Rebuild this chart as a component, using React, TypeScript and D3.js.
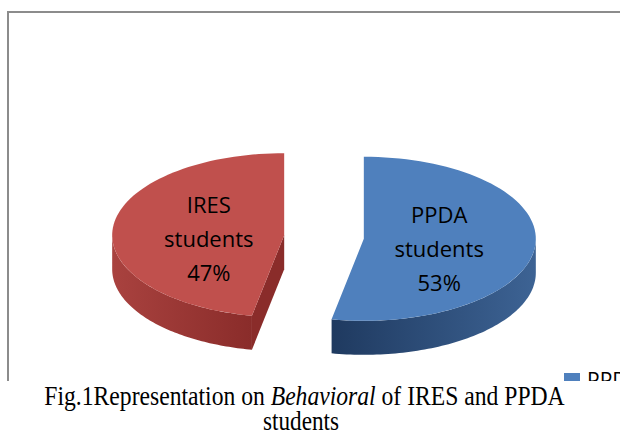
import React, {useLayoutEffect, useRef, useState} from 'react'
import * as d3 from 'd3'

// slices, clockwise from 12 o'clock
const names = ['PPDA', 'IRES']
const subNames = ['students', 'students']
const values = [53, 47]
const topColors = ['#4f80bd', '#c0504d']
const sideColors = [
  ['#1f3a60', '#3d6394'],
  ['#a9423f', '#8a2c2a']
]
const legendItems = ['PPDA students', 'IRES students']

const W = 620
const H = 436
const cx = 324
const cy = 237
const rx = 172
const ry = 82
const depth = 34
const explode = 40

function Caption() {
  const line1 = useRef<SVGTextElement>(null)
  const line2 = useRef<SVGTextElement>(null)
  const [sx, setSx] = useState([1, 1])

  useLayoutEffect(() => {
    const w1 = line1.current ? line1.current.getBBox().width : 521
    const w2 = line2.current ? line2.current.getBBox().width : 76
    setSx([521 / w1, 76 / w2])
  }, [])

  const font = "'Liberation Serif', 'Times New Roman', serif"
  return (
    <g>
      <g transform={`translate(304.5,405) scale(${sx[0]},1)`}>
        <text ref={line1} textAnchor="middle" fontFamily={font} fontSize={27} fill="#000">
          Fig.1Representation on <tspan fontStyle="italic">Behavioral</tspan> of IRES and PPDA
        </text>
      </g>
      <g transform={`translate(301,430) scale(${sx[1]},1)`}>
        <text ref={line2} textAnchor="middle" fontFamily={font} fontSize={27} fill="#000">
          students
        </text>
      </g>
    </g>
  )
}

function App() {
  const pie = d3
    .pie<number>()
    .sort(null)
    .startAngle(0)
    .endAngle(2 * Math.PI)
  const slices = pie(values)
  const line = d3.line()

  const pt = (c: number[], a: number, dz = 0): [number, number] => [
    c[0] + rx * Math.sin(a),
    c[1] - ry * Math.cos(a) + dz
  ]
  const sample = (a0: number, a1: number) =>
    d3.range(0, 81).map(i => a0 + ((a1 - a0) * i) / 80)

  const pieces = slices.map((s, i) => {
    const mid = (s.startAngle + s.endAngle) / 2
    const c = [cx + explode * Math.sin(mid), cy - explode * Math.cos(mid) * (ry / rx)]
    const top =
      line([[c[0], c[1]] as [number, number], ...sample(s.startAngle, s.endAngle).map(a => pt(c, a))]) + 'Z'

    // outer wall, only the front half is seen
    const lo = Math.max(s.startAngle, Math.PI / 2)
    const hi = Math.min(s.endAngle, (3 * Math.PI) / 2)
    let wall = null
    if (lo < hi) {
      const upper = sample(lo, hi).map(a => pt(c, a))
      const lower = sample(lo, hi).map(a => pt(c, a, depth)).reverse()
      wall = line([...upper, ...lower]) + 'Z'
    }

    // cut faces turned towards the viewer
    const cuts: string[] = []
    if (Math.sin(s.startAngle) < -0.01) {
      const p = pt(c, s.startAngle)
      cuts.push(line([[c[0], c[1]], p, [p[0], p[1] + depth], [c[0], c[1] + depth]]) + 'Z')
    }
    if (Math.sin(s.endAngle) > 0.01) {
      const p = pt(c, s.endAngle)
      cuts.push(line([[c[0], c[1]], p, [p[0], p[1] + depth], [c[0], c[1] + depth]]) + 'Z')
    }

    const lp = [c[0] + 0.44 * rx * Math.sin(mid), c[1] - 0.44 * ry * Math.cos(mid) + 7]
    return {i, c, top, wall, cuts, lp}
  })

  return (
    <svg
      width={W}
      height={H}
      style={{position: 'absolute', left: 0, top: 0, background: '#fff'}}
    >
      <defs>
        <clipPath id="chartClip">
          <rect x={0} y={0} width={W} height={381} />
        </clipPath>
        {pieces.map(p => (
          <linearGradient key={p.i} id={'wall' + p.i} x1="0" x2="1" y1="0" y2="0">
            <stop offset="0%" stopColor={sideColors[p.i][0]} />
            <stop offset="100%" stopColor={sideColors[p.i][1]} />
          </linearGradient>
        ))}
      </defs>

      <g clipPath="url(#chartClip)">
        <rect x={8} y={12} width={640} height={400} fill="#fff" stroke="#8c8c8c" strokeWidth={2} />

        {pieces.map(p => (
          <g key={p.i}>
            {p.cuts.map((d, k) => (
              <path key={k} d={d} fill={sideColors[p.i][1]} />
            ))}
            {p.wall && <path d={p.wall} fill={`url(#wall${p.i})`} />}
            <path d={p.top} fill={topColors[p.i]} />
          </g>
        ))}

        {pieces.map(p => (
          <text
            key={'l' + p.i}
            x={p.lp[0]}
            y={p.lp[1]}
            textAnchor="middle"
            fontFamily="'Open Sans', sans-serif"
            fontSize={22}
            fill="#000"
          >
            <tspan x={p.lp[0]} dy={-26}>{names[p.i]}</tspan>
            <tspan x={p.lp[0]} dy={34}>{subNames[p.i]}</tspan>
            <tspan x={p.lp[0]} dy={34}>{values[p.i]}%</tspan>
          </text>
        ))}

        {/* legend, mostly cut off by the frame */}
        <g transform="translate(564,373)">
          <rect x={0} y={0} width={16} height={16} fill={topColors[0]} />
          <text x={23} y={15} fontFamily="'Open Sans', sans-serif" fontSize={21} fill="#000">
            {legendItems[0]}
          </text>
        </g>
      </g>

      <Caption />
    </svg>
  )
}

export default App
